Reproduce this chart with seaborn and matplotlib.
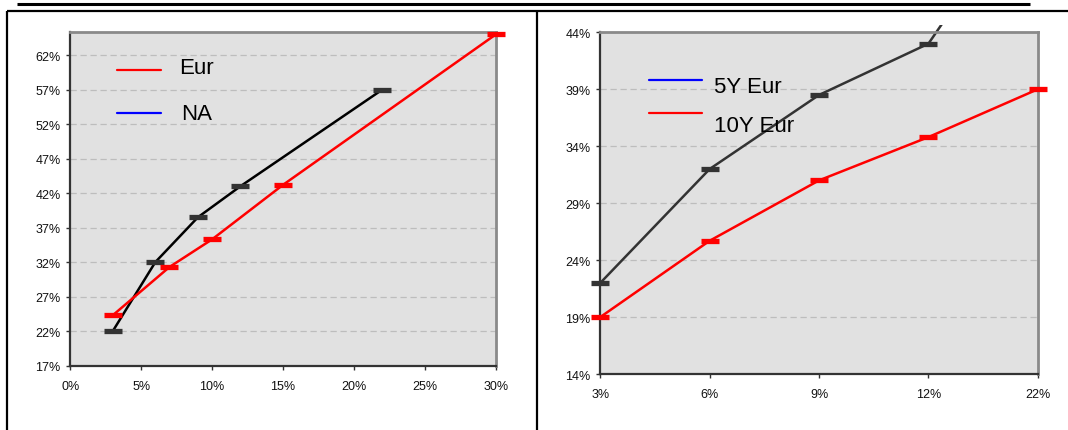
import numpy as np
import pandas as pd
import matplotlib
matplotlib.use("Agg")
import matplotlib.pyplot as plt
from matplotlib.lines import Line2D
from matplotlib.transforms import Bbox
import seaborn as sns

# ---- data -------------------------------------------------------------
# left panel: numeric x (%), y (%)
na_x = [3, 6, 9, 12, 22]
na_y = [22, 32, 38.5, 43, 57]
eur_x = [3, 7, 10, 15, 30]
eur_y = [24.3, 31.3, 35.3, 43.2, 65]

# right panel: categorical x
right_cats = ["3%", "6%", "9%", "12%", "22%"]
y5_eur = [22, 32, 38.5, 43, 57]
y10_eur = [19, 25.7, 31, 34.8, 39]

left_yticks = [17, 22, 27, 32, 37, 42, 47, 52, 57, 62]
left_xticks = [0, 5, 10, 15, 20, 25, 30]
right_yticks = [14, 19, 24, 29, 34, 39, 44]

# ---- style ------------------------------------------------------------
sns.set_theme(style="ticks")
plt.rcParams["font.family"] = ["Liberation Sans", "DejaVu Sans"]

RED = "#FF0000"
MARK_DARK = "#333333"
BG = "#E1E1E1"
GRID = "#BDBDBD"

fig = plt.figure(figsize=(10.68, 4.31), dpi=100)
ax1 = fig.add_axes([0.0657, 0.1492, 0.3986, 0.7735])
ax2 = fig.add_axes([0.5621, 0.1299, 0.4096, 0.7928])


def style_axes(ax):
    ax.set_facecolor(BG)
    for side in ("left", "bottom"):
        ax.spines[side].set_color("#333333")
        ax.spines[side].set_linewidth(1.6)
    for side in ("top", "right"):
        ax.spines[side].set_visible(True)
        ax.spines[side].set_color("#8A8A8A")
        ax.spines[side].set_linewidth(2.0)
    ax.tick_params(axis="both", direction="out", length=3, width=1,
                   color="#333333", labelsize=9, labelcolor="#111111")
    ax.tick_params(axis="x", pad=7)
    ax.tick_params(axis="y", pad=4)
    ax.yaxis.grid(True, color=GRID, linestyle=(0, (5, 3)), linewidth=0.9)
    ax.xaxis.grid(False)
    ax.set_axisbelow(True)
    ax.set_xlabel("")
    ax.set_ylabel("")


def draw_series(ax, x, y, line_color, mark_color):
    df = pd.DataFrame({"x": x, "y": y})
    sns.lineplot(data=df, x="x", y="y", ax=ax, color=line_color,
                 linewidth=1.8, sort=False, legend=False)
    ln = ax.lines[-1]
    ax.plot(df["x"], df["y"], linestyle="none", marker="_",
            markersize=13, markeredgewidth=3.8, color=mark_color,
            clip_on=False, zorder=4)
    return ln


# ---- left panel -------------------------------------------------------
draw_series(ax1, na_x, na_y, "#000000", MARK_DARK)
draw_series(ax1, eur_x, eur_y, RED, RED)
ax1.set_xlim(0, 30)
ax1.set_ylim(17, 65.3)
ax1.set_xticks(left_xticks)
ax1.set_xticklabels([f"{v}%" for v in left_xticks])
ax1.set_yticks(left_yticks)
ax1.set_yticklabels([f"{v}%" for v in left_yticks])
style_axes(ax1)

# ---- right panel ------------------------------------------------------
pos = np.arange(len(right_cats))
ln5 = draw_series(ax2, pos, y5_eur, "#333333", MARK_DARK)
draw_series(ax2, pos, y10_eur, RED, RED)
ax2.set_xlim(0, len(right_cats) - 1)
ax2.set_ylim(14, 44)
ax2.set_xticks(pos)
ax2.set_xticklabels(right_cats)
ax2.set_yticks(right_yticks)
ax2.set_yticklabels([f"{v}%" for v in right_yticks])
style_axes(ax2)

# the 5Y line runs a few pixels past the top of the frame before it is cut
fig.canvas.draw()
bb = ax2.bbox
ln5.set_clip_on(True)
ln5.set_clip_box(Bbox.from_extents(bb.x0, bb.y0, bb.x1, bb.y1 + 7))

# ---- legends (text keys) ---------------------------------------------
def legend_row(ax, x0, x1, yh, xt, yt, color, label):
    ax.add_line(Line2D([x0, x1], [yh, yh], transform=ax.transAxes,
                       color=color, linewidth=1.6, clip_on=False))
    ax.text(xt, yt, label, transform=ax.transAxes, fontsize=16,
            va="center", ha="left", color="#000000")

legend_row(ax1, 0.110, 0.214, 0.887, 0.256, 0.893, RED, "Eur")
legend_row(ax1, 0.110, 0.214, 0.758, 0.260, 0.757, "#0000FF", "NA")
legend_row(ax2, 0.111, 0.232, 0.860, 0.261, 0.842, "#0000FF", "5Y Eur")
legend_row(ax2, 0.111, 0.232, 0.763, 0.261, 0.726, RED, "10Y Eur")

# ---- page frame -------------------------------------------------------
W, H = 1068.0, 431.0
def fig_line(xs, ys, lw):
    fig.add_artist(Line2D([x / W for x in xs], [1 - y / H for y in ys],
                          transform=fig.transFigure, color="black",
                          linewidth=lw, solid_capstyle="butt"))

fig_line([17, 1030], [5, 5], 2.2)
fig_line([7, 1068], [11.5, 11.5], 1.6)
fig_line([7, 7], [11.5, 431], 1.6)
fig_line([537, 537], [11.5, 431], 1.6)

fig.savefig("out.png", dpi=100, facecolor="white")
